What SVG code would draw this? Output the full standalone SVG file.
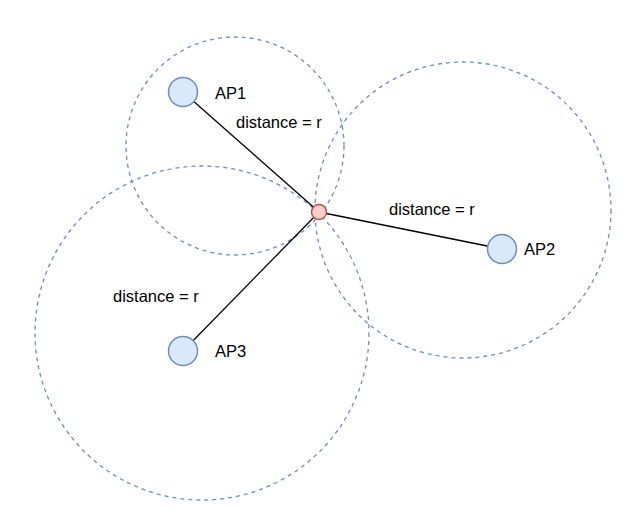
<svg xmlns="http://www.w3.org/2000/svg" width="642" height="515" viewBox="0 0 642 515">
<style>
.range{fill:none;stroke:#6c8ebf;stroke-width:1.3;stroke-dasharray:4 4}
.ap{fill:#dae8fc;stroke:#6c8ebf;stroke-width:1.5}
.pt{fill:#f8cecc;stroke:#b85450;stroke-width:1.5}
.edge{stroke:#000;stroke-width:1.3;fill:none}
text{font-family:"Liberation Sans",Arial,sans-serif;font-size:16.5px;fill:#000}
</style>
<rect width="642" height="515" fill="#fff"/>
<g id="ranges">
<circle class="range" cx="235" cy="146" r="109"/>
<circle class="range" cx="463" cy="210" r="148"/>
<circle class="range" cx="202" cy="333" r="167"/>
</g>
<g id="connectors">
<line class="edge" x1="183" y1="92" x2="319" y2="212"/>
<line class="edge" x1="502" y1="249" x2="319" y2="212"/>
<line class="edge" x1="183" y1="351" x2="319" y2="212"/>
<text x="236" y="128">distance = r</text>
<text x="389" y="215">distance = r</text>
<text x="113" y="302">distance = r</text>
</g>
<g id="AP1"><circle class="ap" cx="183" cy="92" r="14.5"/><text x="215" y="99">AP1</text></g>
<g id="AP2"><circle class="ap" cx="502" cy="249" r="14.5"/><text x="524" y="255">AP2</text></g>
<g id="AP3"><circle class="ap" cx="183" cy="351" r="14.5"/><text x="215" y="357">AP3</text></g>
<g id="P"><circle class="pt" cx="319" cy="212" r="7.5"/></g>
</svg>
